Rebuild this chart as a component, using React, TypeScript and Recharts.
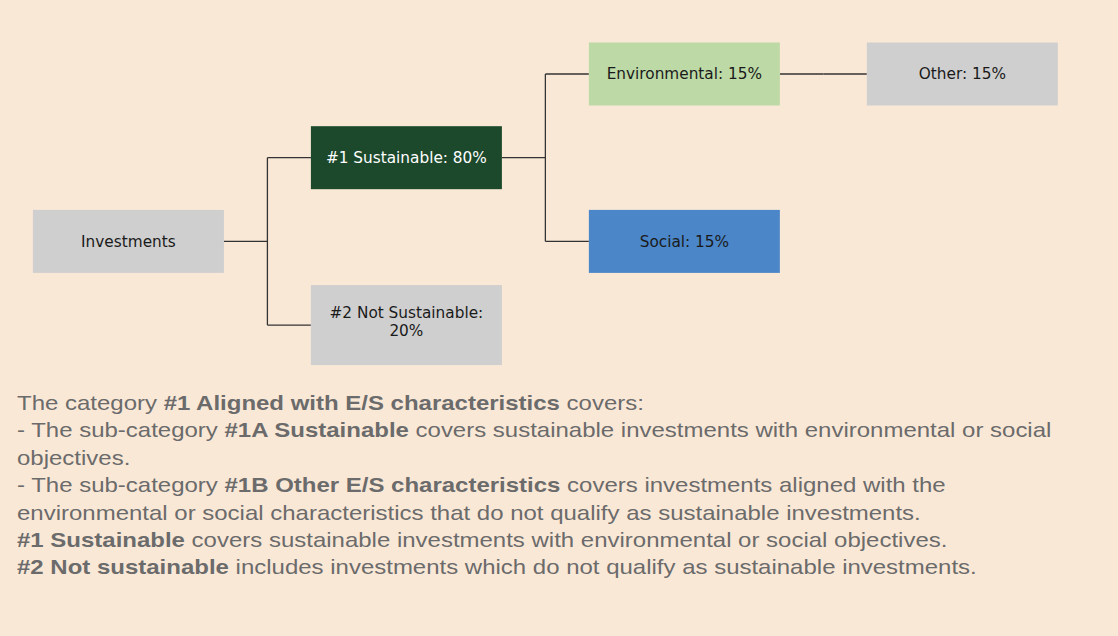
import React from "react";
import { ScatterChart, Scatter, XAxis, YAxis, ReferenceLine } from "recharts";

// tree nodes: name, share (%), column level, row and parent index
const nodeNames = ["Investments", "#1 Sustainable", "#2 Not Sustainable", "Environmental", "Social", "Other"];
const nodeShares = [null, 80, 20, 15, 15, 15];
const nodeLevels = [0, 1, 1, 2, 2, 3];
const nodeRows = [2, 1, 3, 0, 2, 0];
const nodeParents = [-1, 0, 0, 1, 1, 3];

const noteLines = [
  [["The category ", false], ["#1 Aligned with E/S characteristics", true], [" covers:", false]],
  [["- The sub-category ", false], ["#1A Sustainable", true], [" covers sustainable investments with environmental or social", false]],
  [["objectives.", false]],
  [["- The sub-category ", false], ["#1B Other E/S characteristics", true], [" covers investments aligned with the", false]],
  [["environmental or social characteristics that do not qualify as sustainable investments.", false]],
  [["#1 Sustainable", true], [" covers sustainable investments with environmental or social objectives.", false]],
  [["#2 Not sustainable", true], [" includes investments which do not qualify as sustainable investments.", false]],
] as [string, boolean][][];

const boxFill: Record<string, string> = {
  "Investments": "#cfcfcf",
  "#1 Sustainable": "#1c492c",
  "#2 Not Sustainable": "#cfcfcf",
  "Environmental": "#bcd9a6",
  "Social": "#4a86c8",
  "Other": "#cfcfcf",
};

const BG = "#fae8d7";
const BOX_W = 191;
const HALF_X = 0.3435; // half box width in level units
const LINE = "#333333";

const nodes = nodeNames.map((name, i) => ({
  name,
  share: nodeShares[i],
  level: nodeLevels[i],
  row: nodeRows[i],
}));

function labelLines(name: string, share: number | null) {
  if (share === null) return [name];
  const full = `${name}: ${share}%`;
  return full.length > 20 ? [`${name}:`, `${share}%`] : [full];
}

function NodeBox(props: any) {
  const { cx, cy, payload } = props;
  const lines = labelLines(payload.name, payload.share);
  const h = lines.length > 1 ? 80 : 63;
  const dark = payload.name === "#1 Sustainable";
  const first = cy + 5.5 - (lines.length - 1) * 12.8;
  return (
    <g>
      <rect x={cx - BOX_W / 2} y={cy - h / 2} width={BOX_W} height={h} fill={boxFill[payload.name]} />
      {lines.map((t, i) => (
        <text
          key={i}
          x={cx}
          y={first + i * 17.8}
          textAnchor="middle"
          fontFamily="DejaVu Sans, Verdana, sans-serif"
          fontSize={15.3}
          fill={dark ? "#ffffff" : "#1a1a1a"}
        >
          {t}
        </text>
      ))}
    </g>
  );
}

function connectorSegments() {
  const segs: { x: number; y: number }[][] = [];
  nodes.forEach((p, pi) => {
    const kids = nodes.filter((_, ci) => nodeParents[ci] === pi);
    if (!kids.length) return;
    const elbow = p.level + 0.5;
    segs.push([{ x: p.level + HALF_X, y: p.row }, { x: elbow, y: p.row }]);
    const rows = kids.map((k) => k.row).concat(p.row);
    const lo = Math.min(...rows);
    const hi = Math.max(...rows);
    if (hi > lo) segs.push([{ x: elbow, y: lo }, { x: elbow, y: hi }]);
    kids.forEach((k) => segs.push([{ x: elbow, y: k.row }, { x: k.level - HALF_X, y: k.row }]));
  });
  return segs;
}

export default function App() {
  return (
    <div style={{ position: "absolute", left: 0, top: 0, width: 1118, height: 636, background: BG, overflow: "hidden" }}>
      <ScatterChart width={1118} height={380} margin={{ top: 0, right: 0, bottom: 0, left: 0 }}>
        <XAxis type="number" dataKey="level" domain={[-0.462, 3.56]} hide />
        <YAxis type="number" dataKey="row" domain={[-0.884, 3.656]} reversed hide />
        {connectorSegments().map((s, i) => (
          <ReferenceLine key={i} segment={s} stroke={LINE} strokeWidth={1.3} />
        ))}
        <Scatter data={nodes} isAnimationActive={false} shape={(p: any) => <NodeBox {...p} />} />
      </ScatterChart>
      <div
        style={{
          position: "absolute",
          left: 17,
          top: 389,
          fontFamily: "Liberation Sans, Arial, sans-serif",
          fontSize: 21,
          lineHeight: "27.4px",
          color: "#6b6b6b",
          whiteSpace: "nowrap",
          transform: "scaleX(1.142)",
          transformOrigin: "0 0",
        }}
      >
        {noteLines.map((line, i) => (
          <div key={i}>
            {line.map(([t, bold], j) => (
              <span key={j} style={{ fontWeight: bold ? "bold" : "normal" }}>
                {t}
              </span>
            ))}
          </div>
        ))}
      </div>
    </div>
  );
}
